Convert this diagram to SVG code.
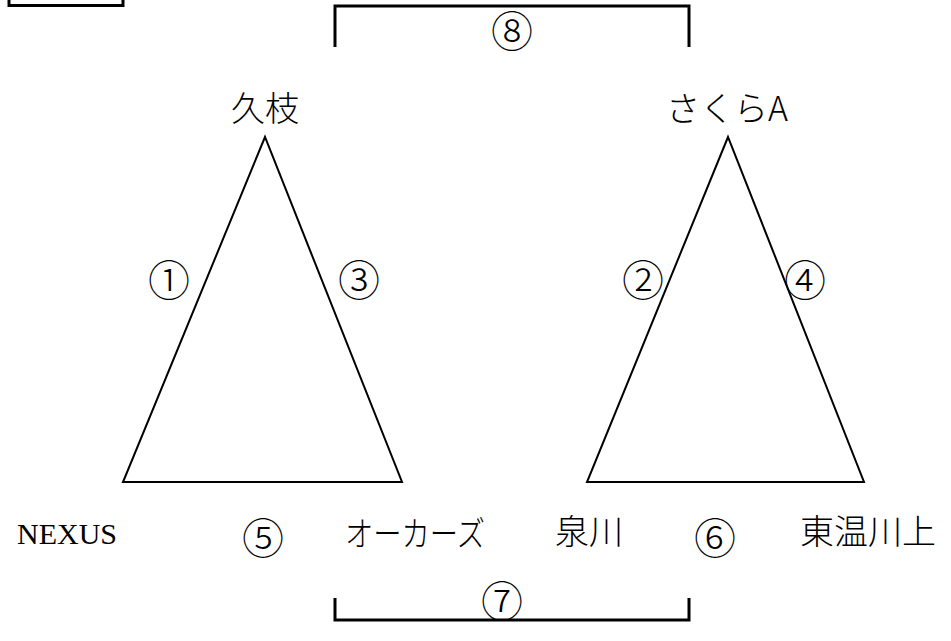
<svg xmlns="http://www.w3.org/2000/svg" width="951" height="641" viewBox="0 0 951 641">
<style>
.ln{fill:none;stroke:#000;stroke-width:2;stroke-linejoin:miter}
.br{fill:none;stroke:#000;stroke-width:3}
.t{font-family:"Liberation Serif","Noto Sans CJK JP",serif;fill:#000;text-anchor:middle}
.j{font-family:"Noto Sans CJK JP","Liberation Serif",sans-serif;font-size:34px;fill:#000;text-anchor:middle;font-weight:300}
.c{font-family:"Noto Sans CJK JP","Liberation Serif",serif;font-size:42px;fill:#000;text-anchor:middle;dominant-baseline:central;font-weight:300}
</style>
<rect width="951" height="641" fill="#fff"/>
<g id="corner-box"><polyline class="br" points="9,0 9,5.5 123,5.5 123,0"/></g>
<g id="connectors">
<polygon id="tri1" class="ln" points="265,137 123,482 402,482"/>
<polygon id="tri2" class="ln" points="728,137 587,482 864,482"/>
<polyline id="bracket8" class="br" points="335,47 335,6 689,6 689,47"/>
<polyline id="bracket7" class="br" points="335,598 335,620 689,620 689,598"/>
</g>
<g id="n-hisae"><text class="j" x="265" y="121">久枝</text></g>
<g id="n-sakura"><text class="j" x="727" y="121">さくらA</text></g>
<g id="n-nexus"><text class="t" x="67" y="544" font-size="30">NEXUS</text></g>
<g id="n-orkers"><text class="j" x="415" y="546" textLength="140" lengthAdjust="spacingAndGlyphs">オーカーズ</text></g>
<g id="n-izumikawa"><text class="j" x="589" y="544">泉川</text></g>
<g id="n-toon"><text class="j" x="868" y="544">東温川上</text></g>
<g id="labels">
<text class="c" x="169" y="277">①</text>
<text class="c" x="643" y="277">②</text>
<text class="c" x="359" y="277">③</text>
<text class="c" x="805" y="277">④</text>
<text class="c" x="263" y="535">⑤</text>
<text class="c" x="715" y="535">⑥</text>
<text class="c" x="502" y="598">⑦</text>
<text class="c" x="512" y="28">⑧</text>
</g>
</svg>
